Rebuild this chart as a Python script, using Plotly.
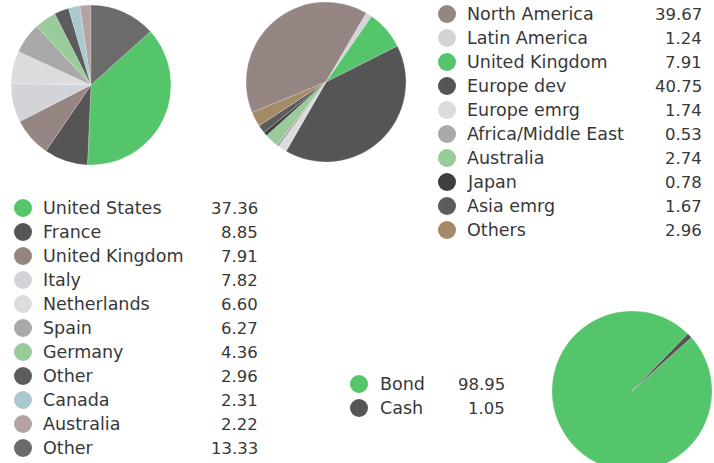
import plotly.graph_objects as go

W, H = 714, 472

# ---- data ----
country_labels = ["United States", "France", "United Kingdom", "Italy", "Netherlands",
                  "Spain", "Germany", "Other", "Canada", "Australia", "Other"]
country_values = [37.36, 8.85, 7.91, 7.82, 6.60, 6.27, 4.36, 2.96, 2.31, 2.22, 13.33]
country_colors = ["#55c56b", "#555555", "#958683", "#d3d4d9", "#dcdcdc", "#a9a9a9",
                  "#9acb9a", "#5c5c5c", "#a9c9cf", "#b5a3a3", "#6b6b6b"]

region_labels = ["North America", "Latin America", "United Kingdom", "Europe dev", "Europe emrg",
                 "Africa/Middle East", "Australia", "Japan", "Asia emrg", "Others"]
region_values = [39.67, 1.24, 7.91, 40.75, 1.74, 0.53, 2.74, 0.78, 1.67, 2.96]
region_colors = ["#958683", "#d3d4d9", "#55c56b", "#555555", "#dcdcdc", "#a9a9a9",
                 "#9acb9a", "#3f3f3f", "#5c5c5c", "#a58a68"]

asset_labels = ["Bond", "Cash"]
asset_values = [98.95, 1.05]
asset_colors = ["#55c56b", "#555555"]

FONT = "DejaVu Sans"
TXT = "#383838"
FS_LABEL = 17.5
FS_VALUE = 16.5

fig = go.Figure()

def add_pie(labels, values, colors, cx, cy, r, rotation):
    fig.add_trace(go.Pie(
        labels=[f"s{i}" for i in range(len(labels))],  # unique ids so duplicate names stay separate
        hovertext=labels, values=values, sort=False, direction="clockwise",
        rotation=rotation, textinfo="none",
        hovertemplate="%{hovertext}: %{value}<extra></extra>",
        marker=dict(colors=colors, line=dict(color="rgba(255,255,255,0.35)", width=0.6)),
        domain=dict(x=[(cx - r) / W, (cx + r) / W],
                    y=[(H - cy - r) / H, (H - cy + r) / H]),
        showlegend=False,
    ))

add_pie(country_labels, country_values, country_colors, 91, 85, 80, 48)
add_pie(region_labels, region_values, region_colors, 326, 82, 80, 247.5)
add_pie(asset_labels, asset_values, asset_colors, 632, 391, 80, 48)

annotations = []

def add_legend(labels, values, colors, mx, y0, tx, vx, step=24):
    ys = [y0 + i * step for i in range(len(labels))]
    fig.add_trace(go.Scatter(
        x=[mx] * len(labels), y=ys, mode="markers",
        marker=dict(size=18, color=colors, line=dict(width=0)),
        hoverinfo="skip", showlegend=False, xaxis="x", yaxis="y",
    ))
    for lab, val, y in zip(labels, values, ys):
        annotations.append(dict(x=tx, y=y, xref="x", yref="y", text=lab, showarrow=False,
                                xanchor="left", yanchor="middle",
                                font=dict(family=FONT, size=FS_LABEL, color=TXT)))
        annotations.append(dict(x=vx, y=y, xref="x", yref="y", text=f"{val:.2f}", showarrow=False,
                                xanchor="right", yanchor="middle",
                                font=dict(family=FONT, size=FS_VALUE, color=TXT)))

add_legend(country_labels, country_values, country_colors, 23, 208, 41, 260)
add_legend(region_labels, region_values, region_colors, 447, 14, 465, 704)
add_legend(asset_labels, asset_values, asset_colors, 359, 384, 378, 507)

fig.update_layout(
    width=W, height=H,
    margin=dict(l=0, r=0, t=0, b=0),
    paper_bgcolor="white", plot_bgcolor="rgba(0,0,0,0)",
    xaxis=dict(range=[0, W], visible=False, fixedrange=True, domain=[0, 1]),
    yaxis=dict(range=[H, 0], visible=False, fixedrange=True, domain=[0, 1]),
    annotations=annotations,
    font=dict(family=FONT, color=TXT),
)

fig.write_html("out.html", config={"displayModeBar": False},
               post_script="document.body.style.margin='0';document.body.style.overflow='hidden';")
